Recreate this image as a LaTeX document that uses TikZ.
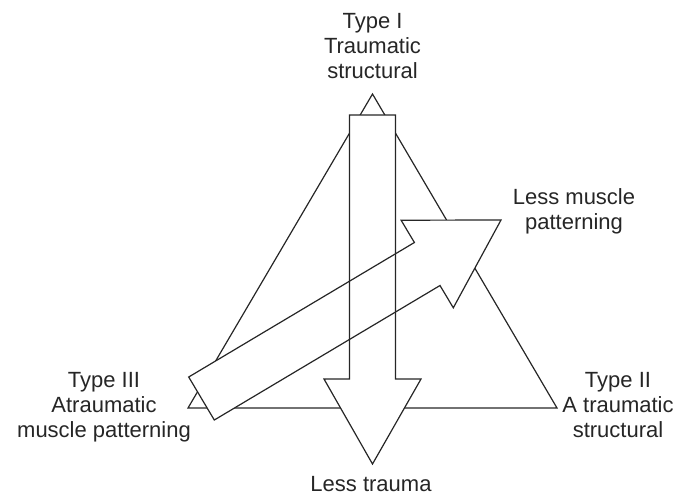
\documentclass[tikz,border=0pt]{standalone}
\usepackage{fontspec}
\setmainfont{Liberation Sans}
\tikzset{
    outline/.style={draw=black!85, line width=0.9pt, line join=miter},
    blockfill/.style={fill=white},
    lbl/.style={align=center, inner sep=0pt, font=\fontsize{16.5}{18.75}\selectfont, text=black!85},
}

\begin{document}
\begin{tikzpicture}[x=0.75pt, y=-0.75pt]
    \useasboundingbox (0,0) rectangle (677,497);

    %triangle
    \draw[outline] (372.5,94) -- (557,408) -- (188,408) -- cycle;

    %arrows: white fill first, so the outlines show through each other
    \fill[blockfill] (349.5,115) -- (395.5,115) -- (395.5,379) -- (421,379) -- (372.5,464) -- (324,379) -- (349.5,379) -- cycle;
    \fill[blockfill] (188.7,377) -- (414.4,242.5) -- (401.1,220.2) -- (501,220) -- (453.3,307.8) -- (440,285.5) -- (214.3,420) -- cycle;
    %trauma arrow (down)
    \draw[outline] (349.5,115) -- (395.5,115) -- (395.5,379) -- (421,379) -- (372.5,464) -- (324,379) -- (349.5,379) -- cycle;
    %muscle patterning arrow (diagonal)
    \draw[outline] (188.7,377) -- (414.4,242.5) -- (401.1,220.2) -- (501,220) -- (453.3,307.8) -- (440,285.5) -- (214.3,420) -- cycle;

    %corner labels
    \node[lbl] (typeI) at (372.5,46) {Type I\\Traumatic\\structural};
    \node[lbl] (typeII) at (618,405) {Type II\\A traumatic\\structural};
    \node[lbl] (typeIII) at (104,407) {Type III\\Atraumatic\\muscle patterning};
    %arrow labels
    \node[lbl] (lessmuscle) at (574,211) {Less muscle\\patterning};
    \node[lbl] (lesstrauma) at (371,484) {Less trauma};
\end{tikzpicture}
\end{document}
